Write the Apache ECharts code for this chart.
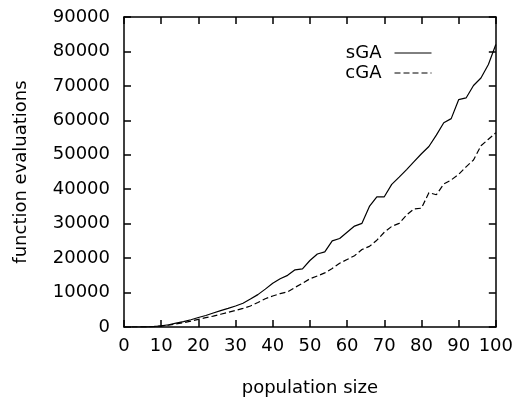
<!DOCTYPE html>
<html>
<head>
<meta charset="utf-8">
<script src="https://cdn.jsdelivr.net/npm/echarts@6/dist/echarts.min.js"></script>
<style>
  html, body { margin: 0; padding: 0; background: #fff; }
  #chart { width: 516px; height: 402px; }
</style>
</head>
<body>
<div id="chart"></div>
<script>
// Population sizes (x) and mean function evaluations for each algorithm
const populationSize = [2, 4, 6, 8, 10, 12, 14, 16, 18, 20, 22, 24, 26, 28, 30, 32, 34, 36, 38, 40,
  42, 44, 46, 48, 50, 52, 54, 56, 58, 60, 62, 64, 66, 68, 70, 72, 74, 76, 78, 80,
  82, 84, 86, 88, 90, 92, 94, 96, 98, 100];
const sGA = [0, 0, 50, 150, 350, 650, 1100, 1550, 2100, 2750, 3350, 4050, 4750, 5400, 6100, 6900, 8100, 9400, 11000, 12700,
  14000, 15000, 16600, 16900, 19300, 21200, 21800, 25000, 25700, 27500, 29300, 30100, 35000, 37800, 37800, 41400, 43500, 45700, 48000, 50300,
  52400, 55700, 59300, 60500, 66000, 66500, 70100, 72300, 76200, 82000];
const cGA = [0, 0, 40, 120, 300, 550, 900, 1250, 1700, 2200, 2700, 3150, 3700, 4250, 4800, 5400, 6100, 7100, 8200, 9000,
  9700, 10200, 11500, 12700, 14000, 14800, 15700, 17000, 18500, 19600, 20700, 22500, 23400, 25200, 27500, 29200, 30100, 32500, 34300, 34500,
  39000, 38400, 41500, 42700, 44300, 46500, 48500, 52600, 54500, 56400];

const xRange = { min: 0, max: 100, interval: 10 };
const yRange = { min: 0, max: 90000, interval: 10000 };

const FONT = 'DejaVu Sans';
const pairs = (ys) => populationSize.map((x, i) => [x, ys[i]]);
const plain = (v) => String(v);

const frameAxis = {
  axisLine: { show: true, onZero: false, lineStyle: { color: '#000', width: 1.5 } },
  axisTick: { show: true, inside: true, length: 7, lineStyle: { color: '#000', width: 1.5 } },
  splitLine: { show: false }
};

const chart = echarts.init(document.getElementById('chart'), null, { renderer: 'canvas' });
chart.setOption({
  animation: false,
  backgroundColor: '#fff',
  grid: { left: 124, right: 17, top: 17, bottom: 75 },
  legend: {
    orient: 'vertical',
    align: 'right',
    right: 79,
    top: 39,
    itemWidth: 37,
    itemHeight: 14,
    itemGap: 2,
    itemStyle: { opacity: 0 },
    lineStyle: { width: 1 },
    textStyle: { fontFamily: FONT, fontSize: 18, color: '#000', padding: [0, 8, 0, 0] },
    data: ['sGA', 'cGA']
  },
  xAxis: [
    Object.assign({
      type: 'value', position: 'bottom', ...xRange,
      name: 'population size', nameLocation: 'middle', nameGap: 52,
      nameTextStyle: { fontFamily: FONT, fontSize: 18, color: '#000' },
      axisLabel: { fontFamily: FONT, fontSize: 18, color: '#000', margin: 10, formatter: plain }
    }, frameAxis),
    Object.assign({
      type: 'value', position: 'top', ...xRange,
      axisLabel: { show: false }
    }, frameAxis)
  ],
  yAxis: [
    Object.assign({
      type: 'value', position: 'left', ...yRange,
      name: 'function evaluations', nameLocation: 'middle', nameGap: 94,
      nameTextStyle: { fontFamily: FONT, fontSize: 18, color: '#000' },
      axisLabel: { fontFamily: FONT, fontSize: 18, color: '#000', margin: 14, formatter: plain }
    }, frameAxis),
    Object.assign({
      type: 'value', position: 'right', ...yRange,
      axisLabel: { show: false }
    }, frameAxis)
  ],
  series: [
    {
      name: 'sGA', type: 'line', symbol: 'none', data: pairs(sGA),
      lineStyle: { color: '#000', width: 1.2, type: 'solid' },
      itemStyle: { color: '#000' }
    },
    {
      name: 'cGA', type: 'line', symbol: 'none', data: pairs(cGA),
      lineStyle: { color: '#000', width: 1.2, type: [6, 3] },
      itemStyle: { color: '#000' }
    }
  ]
});
</script>
</body>
</html>
